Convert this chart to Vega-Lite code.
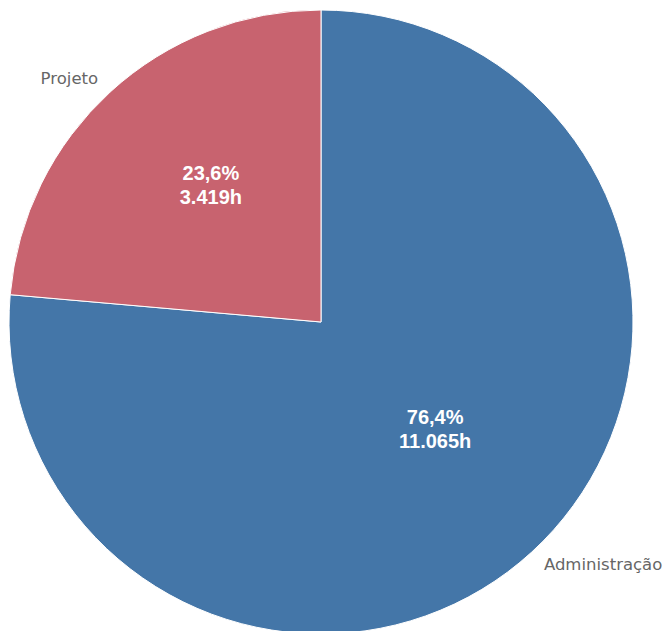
{
  "$schema": "https://vega.github.io/schema/vega-lite/v6.json",
  "width": 642,
  "height": 644,
  "padding": 0,
  "background": "white",
  "view": {"stroke": null},
  "data": {
    "values": [
      {"categoria": "Administração", "horas": 11065, "ordem": 1, "rotulo": ["76,4%", "11.065h"]},
      {"categoria": "Projeto", "horas": 3419, "ordem": 2, "rotulo": ["23,6%", "3.419h"]}
    ]
  },
  "encoding": {
    "theta": {"field": "horas", "type": "quantitative", "stack": true},
    "order": {"field": "ordem", "type": "quantitative"},
    "color": {
      "field": "categoria",
      "type": "nominal",
      "scale": {"domain": ["Administração", "Projeto"], "range": ["#4476a8", "#c8636f"]},
      "legend": null
    }
  },
  "layer": [
    {"mark": {"type": "arc", "outerRadius": 312, "stroke": "#ffffff", "strokeWidth": 1}},
    {
      "mark": {"type": "text", "radius": 166, "dx": 2, "dy": -26, "font": "Liberation Sans", "fontSize": 20, "fontWeight": "bold", "fill": "#ffffff", "lineHeight": 24, "baseline": "middle"},
      "encoding": {"text": {"field": "rotulo"}, "color": {"value": "#ffffff"}}
    },
    {
      "mark": {"type": "text", "radius": 330, "font": "DejaVu Sans", "fontSize": 16.5, "baseline": "middle", "align": {"expr": "datum.categoria == 'Projeto' ? 'right' : 'left'"}},
      "encoding": {"text": {"field": "categoria"}, "color": {"value": "#666666"}}
    }
  ]
}
